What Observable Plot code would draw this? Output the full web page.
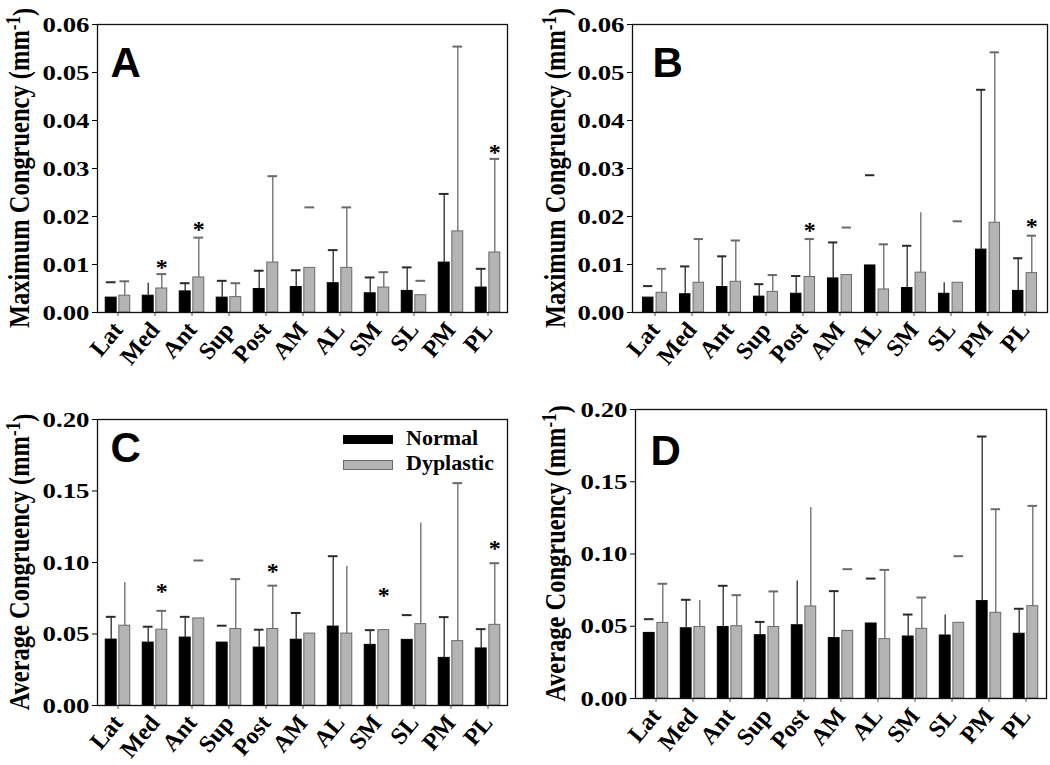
<!DOCTYPE html>
<html><head><meta charset="utf-8">
<script src="https://cdn.jsdelivr.net/npm/d3@7"></script>
<script src="https://cdn.jsdelivr.net/npm/@observablehq/plot@0.6"></script>
<style>
html,body{margin:0;padding:0;background:#fff;}
#chart{position:relative;width:1050px;height:765px;overflow:hidden;background:#fff;}
.panel{position:absolute;}
.legend-text{position:absolute;font-family:"Liberation Serif",serif;font-weight:bold;font-size:22px;line-height:22px;color:#000;white-space:nowrap;}
.swatch{position:absolute;box-sizing:border-box;}
</style></head><body><div id="chart"></div>
<script>
const categories = ["Lat","Med","Ant","Sup","Post","AM","AL","SM","SL","PM","PL"];
const seriesNames = ["Normal","Dyplastic"];
const maxTicks = [0,0.01,0.02,0.03,0.04,0.05,0.06];
const avgTicks = [0,0.05,0.10,0.15,0.20];

// Panel A – Maximum congruency
const maxNormalA    = [0.0031,0.0035,0.0044,0.0031,0.0049,0.0053,0.0061,0.0040,0.0045,0.0104,0.0052];
const maxNormalTopA = [0.0063,0.0061,0.0061,0.0066,0.0087,0.0088,0.0130,0.0073,0.0094,0.0247,0.0091];
const maxNormalShowA= ["c","s","b","b","b","b","b","b","b","b","b"];
const maxDysA       = [0.0035,0.0050,0.0073,0.0032,0.0104,0.0093,0.0093,0.0052,0.0036,0.0169,0.0125];
const maxDysTopA    = [0.0065,0.0080,0.0156,0.0061,0.0284,0.0219,0.0219,0.0084,0.0066,0.0554,0.0320];
const maxDysShowA   = ["b","b","b","b","b","c","b","b","c","b","b"];
const sigCatsA = ["Med","Ant","PL"];
const sigPosA  = [0.0095,0.0174,0.0334];

// Panel B – Maximum congruency
const maxNormalB    = [0.0031,0.0038,0.0053,0.0033,0.0039,0.0071,0.0098,0.0051,0.0039,0.0131,0.0045];
const maxNormalTopB = [0.0055,0.0096,0.0117,0.0059,0.0076,0.0146,0.0286,0.0139,0.0062,0.0464,0.0113];
const maxNormalShowB= ["c","b","b","b","b","b","c","b","s","b","b"];
const maxDysB       = [0.0041,0.0062,0.0064,0.0043,0.0074,0.0078,0.0048,0.0083,0.0062,0.0187,0.0082];
const maxDysTopB    = [0.0091,0.0153,0.0150,0.0078,0.0153,0.0177,0.0142,0.0208,0.0190,0.0542,0.0160];
const maxDysShowB   = ["b","b","b","b","b","c","b","s","c","b","b"];
const sigCatsB = ["Post","PL"];
const sigPosB  = [0.0172,0.0180];

// Panel C – Average congruency
const avgNormalC    = [0.0461,0.0440,0.0475,0.0440,0.0405,0.0460,0.0552,0.0424,0.0459,0.0333,0.0399];
const avgNormalTopC = [0.0620,0.0551,0.0620,0.0558,0.0530,0.0647,0.1044,0.0527,0.0632,0.0618,0.0534];
const avgNormalShowC= ["b","b","b","c","b","b","b","b","c","b","b"];
const avgDysC       = [0.0558,0.0530,0.0609,0.0535,0.0535,0.0503,0.0503,0.0527,0.0569,0.0450,0.0564];
const avgDysTopC    = [0.0861,0.0662,0.1014,0.0884,0.0838,null,0.0972,null,0.1277,0.1555,0.0995];
const avgDysShowC   = ["s","b","c","b","b","n","s","n","s","b","b"];
const sigCatsC = ["Med","Post","SM","PL"];
const sigPosC  = [0.0797,0.0939,0.0769,0.1096];

// Panel D – Average congruency
const avgNormalD    = [0.0454,0.0486,0.0495,0.0438,0.0507,0.0418,0.0519,0.0429,0.0436,0.0674,0.0448];
const avgNormalTopD = [0.0549,0.0683,0.0780,0.0530,0.0813,0.0743,0.0830,0.0581,0.0577,0.1813,0.0621];
const avgNormalShowD= ["c","b","b","b","s","b","c","b","s","b","b"];
const avgDysD       = [0.0523,0.0495,0.0500,0.0495,0.0637,0.0468,0.0411,0.0482,0.0524,0.0593,0.0639];
const avgDysTopD    = [0.0794,0.0678,0.0715,0.0741,0.1322,0.0895,0.0890,0.0699,0.0985,0.1310,0.1333];
const avgDysShowD   = ["b","s","b","b","s","c","b","b","c","b","b"];
const sigCatsD = [];
const sigPosD  = [];

const BLACK = "#000", GREY = "#b4b4b4", GREY_EDGE = "#6a6a6a", ERR_BLACK = "#2a2a2a", ERR_GREY = "#6a6a6a";

function makePanel(cfg) {
  const rows = categories.map((c, i) => ({
    cat: c, n: cfg.normal[i], d: cfg.dys[i],
    nTop: cfg.normalTop[i], dTop: cfg.dysTop[i],
    nShow: cfg.normalShow[i], dShow: cfg.dysShow[i]
  }));
  const sig = cfg.sigCats.map((c, i) => ({cat: c, v: cfg.sigPos[i]}));
  const bw = (cfg.width - cfg.ml - cfg.mr) / categories.length;
  const off = 6.8, half = 5.6, capHalf = 5;
  const has = (r, k, m) => r[k] != null && m.includes(r[k === "nTop" ? "nShow" : "dShow"]);

  const svg = Plot.plot({
    width: cfg.width, height: cfg.height,
    marginLeft: cfg.ml, marginRight: cfg.mr, marginTop: cfg.mt, marginBottom: cfg.mb,
    style: "font-family:'Liberation Serif',serif;font-size:22px;font-weight:bold;color:#000;background:transparent;overflow:visible;",
    x: {domain: categories, padding: 0, label: null},
    y: {domain: cfg.yDomain, label: null},
    marks: [
      Plot.barY(rows, {x: "cat", y: "n", fill: BLACK, stroke: BLACK, strokeWidth: 1,
        insetLeft: bw / 2 - off - half, insetRight: bw / 2 + off - half}),
      Plot.barY(rows, {x: "cat", y: "d", fill: GREY, stroke: GREY_EDGE, strokeWidth: 1,
        insetLeft: bw / 2 + off - half, insetRight: bw / 2 - off - half}),
      Plot.ruleX(rows.filter(r => has(r, "nTop", "bs")), {x: "cat", y1: "n", y2: "nTop", dx: -off, stroke: ERR_BLACK, strokeWidth: 1.3}),
      Plot.tickY(rows.filter(r => has(r, "nTop", "bc")), {x: "cat", y: "nTop", stroke: ERR_BLACK, strokeWidth: 2,
        insetLeft: bw / 2 - off - capHalf, insetRight: bw / 2 + off - capHalf}),
      Plot.ruleX(rows.filter(r => has(r, "dTop", "bs")), {x: "cat", y1: "d", y2: "dTop", dx: off, stroke: ERR_GREY, strokeWidth: 1.3}),
      Plot.tickY(rows.filter(r => has(r, "dTop", "bc")), {x: "cat", y: "dTop", stroke: ERR_GREY, strokeWidth: 2,
        insetLeft: bw / 2 + off - capHalf, insetRight: bw / 2 - off - capHalf}),
      Plot.text(sig, {x: "cat", y: "v", text: () => "*", dx: off, dy: 0, fontSize: 24, fontWeight: "bold", lineAnchor: "middle"}),
      Plot.text([cfg.letter], {frameAnchor: "top-left", text: d => d, dx: cfg.letterDx, dy: cfg.letterDy,
        textAnchor: "start", lineAnchor: "top", fontFamily: "'Liberation Sans',Arial,sans-serif", fontWeight: "bold", fontSize: 42}),
      Plot.axisX({tickRotate: -50, tickSize: 4, tickPadding: 9, fontSize: 24, stroke: "#555", label: null}),
      Plot.axisY(cfg.yTicks, {tickFormat: d3.format(".2f"), tickSize: 5, tickPadding: 3, fontSize: 22, label: null}),
      Plot.frame({stroke: "#111", strokeWidth: 1.3})
    ]
  });

  // x tick labels: enforce the larger bold size
  svg.querySelectorAll('g[aria-label="x-axis tick label"]').forEach(g => {
    g.setAttribute("font-size", 24);
    g.style.fontSize = "24px";
  });

  // slightly widened y tick labels, as in the original figure
  svg.querySelectorAll('g[aria-label="y-axis tick label"] text').forEach(t => {
    const x = +t.getAttribute("x") || 0, y = +t.getAttribute("y") || 0;
    const tr = t.getAttribute("transform") || "";
    t.setAttribute("transform", `${tr} translate(${x},${y}) scale(1.22,1) translate(${-x},${-y})`);
  });

  // y-axis title with superscript
  const cy = cfg.mt + (cfg.height - cfg.mt - cfg.mb) / 2;
  const title = d3.select(svg).append("text")
    .attr("transform", `translate(${cfg.labelX},${cy}) rotate(-90) scale(1,1.2)`)
    .attr("text-anchor", "middle")
    .attr("font-family", "'Liberation Serif',serif")
    .attr("font-weight", "bold")
    .attr("font-size", 24.5)
    .attr("fill", "#000");
  title.append("tspan").text(cfg.title + " (mm");
  title.append("tspan").attr("dy", "-0.45em").attr("font-size", 17).text("-1");
  title.append("tspan").attr("dy", "0.45em").text(")");

  const wrap = document.createElement("div");
  wrap.className = "panel";
  wrap.style.left = cfg.left + "px";
  wrap.style.top = cfg.top + "px";
  wrap.appendChild(svg);
  document.getElementById("chart").appendChild(wrap);
}

makePanel({letter: "A", title: "Maximum Congruency", left: 0, top: 0, width: 525, height: 380, ml: 97, mr: 18, mt: 24, mb: 68,
  yDomain: [0, 0.06], yTicks: maxTicks, labelX: 29, letterDx: 13, letterDy: 23,
  normal: maxNormalA, normalTop: maxNormalTopA, normalShow: maxNormalShowA,
  dys: maxDysA, dysTop: maxDysTopA, dysShow: maxDysShowA, sigCats: sigCatsA, sigPos: sigPosA});
makePanel({letter: "B", title: "Maximum Congruency", left: 525, top: 0, width: 525, height: 380, ml: 107, mr: 3, mt: 24, mb: 68,
  yDomain: [0, 0.06], yTicks: maxTicks, labelX: 40, letterDx: 20, letterDy: 23,
  normal: maxNormalB, normalTop: maxNormalTopB, normalShow: maxNormalShowB,
  dys: maxDysB, dysTop: maxDysTopB, dysShow: maxDysShowB, sigCats: sigCatsB, sigPos: sigPosB});
makePanel({letter: "C", title: "Average Congruency", left: 0, top: 380, width: 525, height: 385, ml: 97, mr: 18, mt: 39, mb: 60,
  yDomain: [0, 0.20], yTicks: avgTicks, labelX: 29, letterDx: 13, letterDy: 13,
  normal: avgNormalC, normalTop: avgNormalTopC, normalShow: avgNormalShowC,
  dys: avgDysC, dysTop: avgDysTopC, dysShow: avgDysShowC, sigCats: sigCatsC, sigPos: sigPosC});
makePanel({letter: "D", title: "Average Congruency", left: 525, top: 380, width: 525, height: 385, ml: 110, mr: 4, mt: 29, mb: 67,
  yDomain: [0, 0.20], yTicks: avgTicks, labelX: 40, letterDx: 15, letterDy: 26,
  normal: avgNormalD, normalTop: avgNormalTopD, normalShow: avgNormalShowD,
  dys: avgDysD, dysTop: avgDysTopD, dysShow: avgDysShowD, sigCats: sigCatsD, sigPos: sigPosD});

// Legend in panel C
const chart = document.getElementById("chart");
const legendItems = [
  {name: seriesNames[0], bg: BLACK, border: "1px solid #000", top: 435, h: 9, textTop: 427},
  {name: seriesNames[1], bg: GREY, border: "1px solid " + GREY_EDGE, top: 460, h: 10, textTop: 452}
];
legendItems.forEach(it => {
  const sw = document.createElement("div");
  sw.className = "swatch";
  Object.assign(sw.style, {left: "343px", top: it.top + "px", width: "50px", height: it.h + "px", background: it.bg, border: it.border});
  chart.appendChild(sw);
  const tx = document.createElement("div");
  tx.className = "legend-text";
  tx.style.left = "406px";
  tx.style.top = it.textTop + "px";
  tx.textContent = it.name;
  chart.appendChild(tx);
});
</script></body></html>
